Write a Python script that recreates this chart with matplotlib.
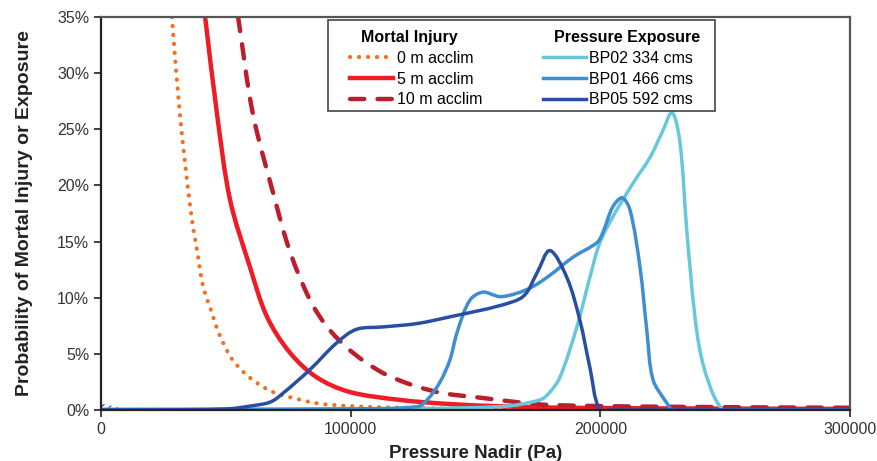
import matplotlib
matplotlib.use("Agg")
import numpy as np
import matplotlib.pyplot as plt
from matplotlib.lines import Line2D
from matplotlib.patches import Rectangle, PathPatch
from matplotlib.path import Path
from matplotlib.ticker import PercentFormatter

plt.rcParams['font.family'] = ['Liberation Sans', 'DejaVu Sans']

# mortal injury probability (%) vs pressure nadir (Pa)
inj0_x = [28400, 31600, 36000, 38400, 40900, 44500, 46900, 51700, 56500, 62500,
          68900, 76500, 86500, 99700, 120000, 150000, 200000, 300000]
inj0_y = [35.0, 26.3, 17.6, 14.3, 11.0, 8.6, 7.0, 4.8, 3.5, 2.4,
          1.6, 1.1, 0.6, 0.35, 0.2, 0.12, 0.08, 0.05]

inj5_x = [41700, 46500, 51700, 59700, 66500, 75700, 86500, 99700, 119700,
          139800, 160000, 179800, 220000, 300000]
inj5_y = [35.0, 26.3, 18.7, 12.7, 8.3, 5.1, 2.9, 1.6, 0.9,
          0.53, 0.33, 0.22, 0.15, 0.1]

inj10_x = [54900, 60900, 69700, 74500, 78900, 84900, 91700, 100900, 112900, 125000,
           137000, 153000, 166600, 179800, 220000, 300000]
inj10_y = [35.0, 26.3, 18.7, 14.9, 12.2, 9.3, 7.1, 5.1, 3.3, 2.2,
           1.5, 1.07, 0.7, 0.45, 0.3, 0.2]

# pressure exposure distributions (%)
bp02_x = [0, 100000, 159800, 175800, 179800, 183800, 190600, 195800, 199800, 205000,
          213100, 219900, 224700, 228700, 231900, 234700, 238700, 242700, 249100, 255000,
          300000]
bp02_y = [0.05, 0.1, 0.3, 0.9, 1.6, 2.9, 7.4, 11.8, 14.9, 17.2,
          20.2, 22.5, 24.7, 26.5, 23.8, 15.8, 6.9, 2.9, 0.0, 0.0,
          0.0]

bp01_x = [0, 100000, 126600, 130600, 135800, 139800, 142600, 147800, 153000, 159800,
          166600, 173000, 179800, 189000, 198600, 201000, 205000, 208700, 211900, 215900,
          218700, 221100, 226700, 229100, 235000, 300000]
bp01_y = [0.05, 0.1, 0.3, 0.9, 2.5, 4.5, 6.9, 9.8, 10.5, 10.1,
          10.4, 11.0, 12.0, 13.6, 14.9, 15.8, 18.1, 18.9, 17.8, 12.7,
          6.9, 2.7, 0.6, 0.0, 0.0, 0.0]

bp05_x = [0, 19600, 50500, 59700, 67700, 72900, 83700, 94500, 102500, 112900,
          126600, 139800, 159800, 169000, 174600, 179800, 186600, 191800, 195800, 199800,
          205000, 300000]
bp05_y = [0.0, 0.0, 0.1, 0.35, 0.7, 1.5, 3.6, 6.0, 7.2, 7.4,
          7.7, 8.3, 9.3, 10.1, 12.2, 14.2, 11.8, 8.0, 3.8, 0.0,
          0.0, 0.0]

# small hatched sliver at the origin
hatch_x = [0, 11600]
hatch_y = [0.6, 0.0]

XMAX, YMAX = 300000, 35


def smooth_path(xs, ys):
    # cubic bezier through every point, tangents from chord-length catmull-rom
    p = np.column_stack([xs, ys]).astype(float)
    q = p / [XMAX, YMAX]
    t = np.concatenate([[0], np.cumsum(np.hypot(*np.diff(q, axis=0).T))])
    n = len(p)
    m = np.zeros_like(p)
    for i in range(n):
        a, b = max(i - 1, 0), min(i + 1, n - 1)
        m[i] = (p[b] - p[a]) / (t[b] - t[a])
    verts = [p[0]]
    codes = [Path.MOVETO]
    for i in range(n - 1):
        h = (t[i + 1] - t[i]) / 3
        verts += [p[i] + m[i] * h, p[i + 1] - m[i + 1] * h, p[i + 1]]
        codes += [Path.CURVE4] * 3
    return Path(verts, codes)


def curve(ax, xs, ys, label, **kw):
    patch = PathPatch(smooth_path(xs, ys), fill=False, **kw)
    ax.add_patch(patch)
    return Line2D([], [], label=label, color=kw['edgecolor'], lw=kw['lw'],
                  linestyle=kw.get('linestyle', '-'), dash_capstyle='round')


fig = plt.figure(figsize=(8.77, 4.61), dpi=100)
ax = fig.add_axes([0.1152, 0.1106, 0.854, 0.8525])

ax.fill_between(hatch_x, hatch_y, 0, facecolor='none', edgecolor='#7a3fb0',
                hatch='////', linewidth=0, zorder=1)

l0 = curve(ax, inj0_x, inj0_y, '0 m acclim', edgecolor='#F36F21', lw=3.0,
           linestyle=(0, (0.05, 2.1)), capstyle='round')
l5 = curve(ax, inj5_x, inj5_y, '5 m acclim', edgecolor='#EE1C25', lw=3.2,
           joinstyle='round')
l10 = curve(ax, inj10_x, inj10_y, '10 m acclim', edgecolor='#BC1E2D', lw=3.2,
            linestyle=(0, (3.2, 3.0)), capstyle='round')

b2 = curve(ax, bp02_x, bp02_y, 'BP02 334 cms', edgecolor='#67C7DB', lw=2.5,
           joinstyle='round')
b1 = curve(ax, bp01_x, bp01_y, 'BP01 466 cms', edgecolor='#3F8ED0', lw=2.5,
           joinstyle='round')
b5 = curve(ax, bp05_x, bp05_y, 'BP05 592 cms', edgecolor='#2A4EA2', lw=2.5,
           joinstyle='round')

ax.set_xlim(0, XMAX)
ax.set_ylim(0, YMAX)
ax.set_xticks([0, 100000, 200000, 300000])
ax.set_xticklabels(['0', '100000', '200000', '300000'])
ax.set_yticks(range(0, 36, 5))
ax.yaxis.set_major_formatter(PercentFormatter(xmax=100, decimals=0))
ax.tick_params(direction='out', length=5, width=1.2, labelsize=11.5,
               labelcolor='#333333', color='#222222')

for side in ['left', 'bottom']:
    ax.spines[side].set_color('#222222')
    ax.spines[side].set_linewidth(1.6)
for side in ['top', 'right']:
    ax.spines[side].set_color('#555555')
    ax.spines[side].set_linewidth(1.6)

ax.set_xlabel('Pressure Nadir (Pa)', fontsize=13.5, fontweight='bold', color='#222222',
              labelpad=6)
ax.set_ylabel('Probability of Mortal Injury or Exposure', fontsize=14,
              fontweight='bold', color='#222222', labelpad=17)

# legend box holding two titled columns
box = Rectangle((0.303, 0.761), 0.517, 0.231, transform=ax.transAxes,
                facecolor='white', edgecolor='#444444', lw=1.2, zorder=5)
ax.add_patch(box)

leg_kw = dict(loc='upper center', frameon=False, fontsize=11.5, handlelength=2.7,
              handletextpad=0.2, labelspacing=0.36, borderpad=0.2,
              title_fontproperties={'weight': 'bold', 'size': 11.5})
# padding spaces nudge each heading off the centre of its column
leg1 = ax.legend(handles=[l0, l5, l10], title='Mortal Injury   ',
                 bbox_to_anchor=(0.4206, 0.995), **leg_kw)
leg1.set_zorder(6)
ax.add_artist(leg1)
leg2 = ax.legend(handles=[b2, b1, b5], title='    Pressure Exposure',
                 bbox_to_anchor=(0.690, 0.995), **leg_kw)
leg2.set_zorder(6)

fig.savefig('out.png', dpi=100)
